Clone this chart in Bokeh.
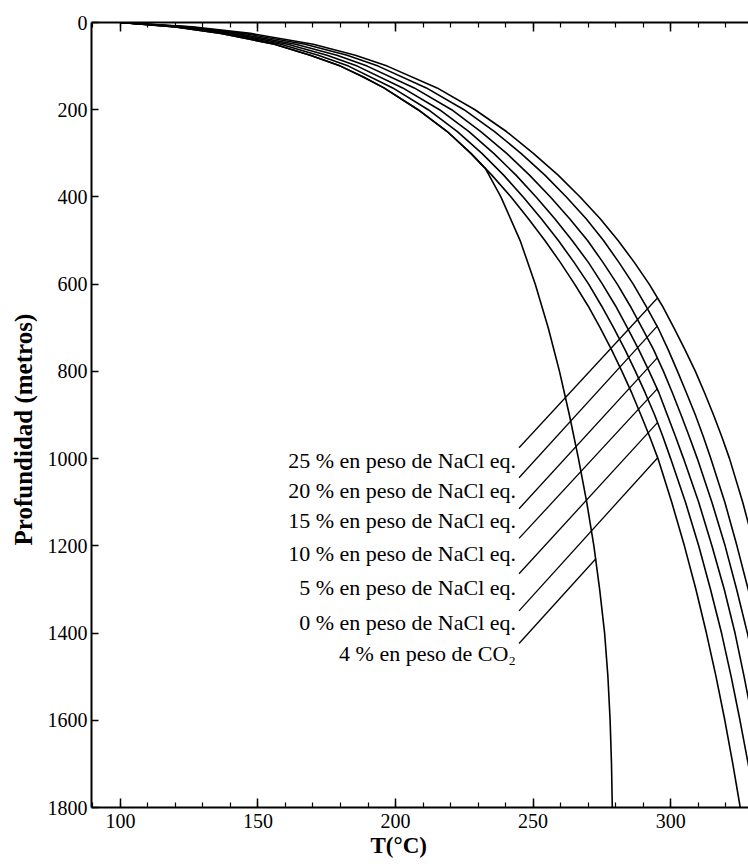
from bokeh.plotting import figure
from bokeh.models import Range1d, LinearAxis, FixedTicker, ColumnDataSource, Title
from bokeh.core.properties import value
from bokeh.embed import file_html
from bokeh.resources import INLINE

# ---- data ----
# 0 % NaCl eq.
depth_0 = [0, 10, 25, 50, 75, 100, 125, 150, 200, 250, 300, 350, 400, 450, 500, 550, 600, 650,
           700, 750, 800, 850, 900, 950, 1000, 1100, 1200, 1300, 1400, 1500, 1600, 1700, 1800]
temp_0 = [100, 120, 136.6, 156, 169, 180, 188.3, 195.8, 208.2, 218.8, 227.4, 235.0, 242.0, 248.3,
          254.3, 259.9, 265.1, 270.0, 274.4, 278.5, 282.3, 285.9, 289.2, 292.4, 295.4, 300.4,
          305.0, 309.2, 313.0, 316.5, 319.7, 322.6, 325.3]
# 5 % NaCl eq.
depth_5 = [0, 10, 25, 50, 75, 100, 150, 200, 250, 300, 350, 400, 450, 500, 550, 600, 650, 700,
           750, 800, 850, 900, 950, 1000, 1100, 1200, 1300, 1400, 1500, 1600, 1700, 1800]
temp_5 = [100, 121.0, 138.3, 158.3, 171.9, 182.9, 199.0, 211.9, 222.5, 231.4, 239.3, 246.4, 253.0,
          259.2, 264.9, 270.2, 274.9, 279.3, 283.4, 287.2, 290.8, 294.2, 297.2, 300.0, 305.4,
          310.2, 314.5, 318.5, 322.0, 325.2, 328.2, 330.9]
# 10 % NaCl eq.
depth_10 = [0, 10, 25, 50, 75, 100, 150, 200, 250, 300, 350, 400, 450, 500, 550, 600, 650, 700,
            750, 800, 850, 900, 950, 1000, 1100, 1200, 1300, 1400, 1500, 1600, 1700]
temp_10 = [100, 122.0, 140.2, 160.8, 175.1, 186.1, 202.6, 216.0, 226.7, 235.7, 243.8, 251.1, 257.9,
           264.2, 270.1, 275.2, 280.0, 284.3, 288.4, 292.2, 295.8, 298.8, 301.8, 304.7, 310.2,
           315.0, 319.5, 323.4, 326.7, 329.8, 332.8]
# 15 % NaCl eq.
depth_15 = [0, 10, 25, 50, 75, 100, 150, 200, 250, 300, 350, 400, 450, 500, 550, 600, 650, 700,
            750, 800, 850, 900, 950, 1000, 1100, 1200, 1300, 1400, 1500]
temp_15 = [100, 123.3, 142.3, 163.7, 178.7, 189.7, 206.8, 220.4, 231.0, 240.4, 248.7, 256.3, 263.3,
           269.8, 275.4, 280.6, 285.3, 289.6, 293.8, 297.4, 300.7, 303.8, 306.8, 309.7, 315.0,
           319.8, 324.0, 327.9, 331.4]
# 20 % NaCl eq.
depth_20 = [0, 10, 25, 50, 75, 100, 150, 200, 250, 300, 350, 400, 450, 500, 550, 600, 650, 700,
            750, 800, 850, 900, 950, 1000, 1100, 1200, 1300, 1400]
temp_20 = [100, 124.7, 144.9, 167.1, 182.4, 193.7, 211.2, 224.9, 236.0, 245.6, 254.3, 262.1, 269.3,
           275.6, 281.2, 286.4, 291.0, 295.4, 299.1, 302.5, 305.8, 309.0, 311.9, 314.6, 319.7,
           324.1, 328.2, 331.8]
# 25 % NaCl eq.
depth_25 = [0, 10, 25, 50, 75, 100, 150, 200, 250, 300, 350, 400, 450, 500, 550, 600, 650, 700,
            750, 800, 850, 900, 950, 1000, 1100, 1200]
temp_25 = [100, 126.1, 147.3, 170.1, 185.4, 197.0, 215.1, 228.9, 240.3, 250.1, 259.1, 267.1, 274.4,
           280.9, 286.8, 292.2, 297.0, 301.2, 305.2, 309.0, 312.4, 315.6, 318.6, 321.4, 326.2, 330.4]
# 4 % CO2
depth_co2 = [0, 10, 25, 50, 75, 100, 125, 150, 200, 250, 300, 335, 400, 500, 600, 700, 800, 900,
             1000, 1100, 1200, 1300, 1400, 1500, 1600, 1700, 1800]
temp_co2 = [100, 120, 136.6, 156, 169, 180, 188.3, 195.8, 208.2, 218.8, 227.4, 232.7, 238.3, 245.3,
            250.8, 255.5, 259.6, 263.2, 266.5, 269.5, 272.1, 274.2, 276.0, 277.2, 278.0, 278.5, 278.8]

series_temps = [temp_25, temp_20, temp_15, temp_10, temp_5, temp_0, temp_co2]
series_depths = [depth_25, depth_20, depth_15, depth_10, depth_5, depth_0, depth_co2]

labels = [
    "25 % en peso de NaCl eq.",
    "20 % en peso de NaCl eq.",
    "15 % en peso de NaCl eq.",
    "10 % en peso de NaCl eq.",
    "5 % en peso de NaCl eq.",
    "0 % en peso de NaCl eq.",
    "4 % en peso de CO\u2082",
]
label_temp = [243.8] * 7
label_depth = [1005, 1073, 1142, 1218, 1296, 1376, 1447]

leader_t0 = [244.9] * 7
leader_d0 = [975, 1044, 1115, 1183, 1264, 1349, 1424]
leader_t1 = [295.3, 295.3, 295.3, 295.3, 295.3, 295.3, 272.9]
leader_d1 = [631, 695, 768, 839, 917, 998, 1229]

depth_ticks = [0, 200, 400, 600, 800, 1000, 1200, 1400, 1600, 1800]
temp_ticks = [100, 150, 200, 250, 300]
temp_minor = [90, 100, 110, 120, 130, 140, 150, 160, 170, 180, 190, 200, 210, 220,
              230, 240, 250, 260, 270, 280, 290, 300, 310, 320]

SERIF = "Liberation Serif"

p = figure(width=748, height=864, output_backend="svg", toolbar_location=None,
           x_range=Range1d(89.5, 328.3), y_range=Range1d(1800, 0),
           x_axis_location=None, y_axis_location=None,
           min_border_left=89, min_border_right=0, min_border_top=22, min_border_bottom=57)
p.grid.visible = False
p.outline_line_color = None
p.background_fill_color = "white"
p.border_fill_color = "white"

def style_axis(ax):
    ax.axis_line_color = "black"
    ax.axis_line_width = 2
    ax.major_tick_line_color = "black"
    ax.major_tick_line_width = 1.5
    ax.minor_tick_line_color = "black"
    ax.minor_tick_line_width = 1.2
    ax.major_tick_out = 0
    ax.minor_tick_out = 0
    ax.major_label_text_font = SERIF
    ax.major_label_text_font_size = "20px"
    ax.major_label_text_color = "black"

left = LinearAxis(ticker=FixedTicker(ticks=depth_ticks, minor_ticks=[]))
style_axis(left)
left.major_tick_in = 7
left.minor_tick_in = 0
left.major_label_standoff = 4
p.add_layout(left, "left")

ytitle = Title(text="Profundidad (metros)", align="left", offset=262, text_font=SERIF,
               text_font_style="bold", text_font_size="25px", text_color="black", standoff=15)
p.add_layout(ytitle, "left")

below = LinearAxis(ticker=FixedTicker(ticks=temp_ticks, minor_ticks=temp_minor))
style_axis(below)
below.major_tick_in = 9
below.minor_tick_in = 5
below.major_label_standoff = 6
p.add_layout(below, "below")

above = LinearAxis(ticker=FixedTicker(ticks=temp_ticks, minor_ticks=temp_minor))
style_axis(above)
above.major_tick_in = 9
above.minor_tick_in = 5
above.major_label_text_font_size = "1px"
above.major_label_text_color = None
above.major_label_standoff = 0
p.add_layout(above, "above")

xtitle = Title(text="T(\u00b0C)", align="left", offset=279, text_font=SERIF,
               text_font_style="bold", text_font_size="23px", text_color="black", standoff=0)
p.add_layout(xtitle, "below")

for t, d in zip(series_temps, series_depths):
    p.line(t, d, line_color="black", line_width=1.6)

p.segment(x0=leader_t0, y0=leader_d0, x1=leader_t1, y1=leader_d1,
          line_color="black", line_width=1.3)

src = ColumnDataSource(dict(x=label_temp, y=label_depth, text=labels))
p.text(x="x", y="y", text="text", source=src, text_align="right",
       text_baseline="middle", text_font=value(SERIF),
       text_font_size=value("22px"), text_color="black")

open("out.html", "w").write(file_html(p, INLINE))
